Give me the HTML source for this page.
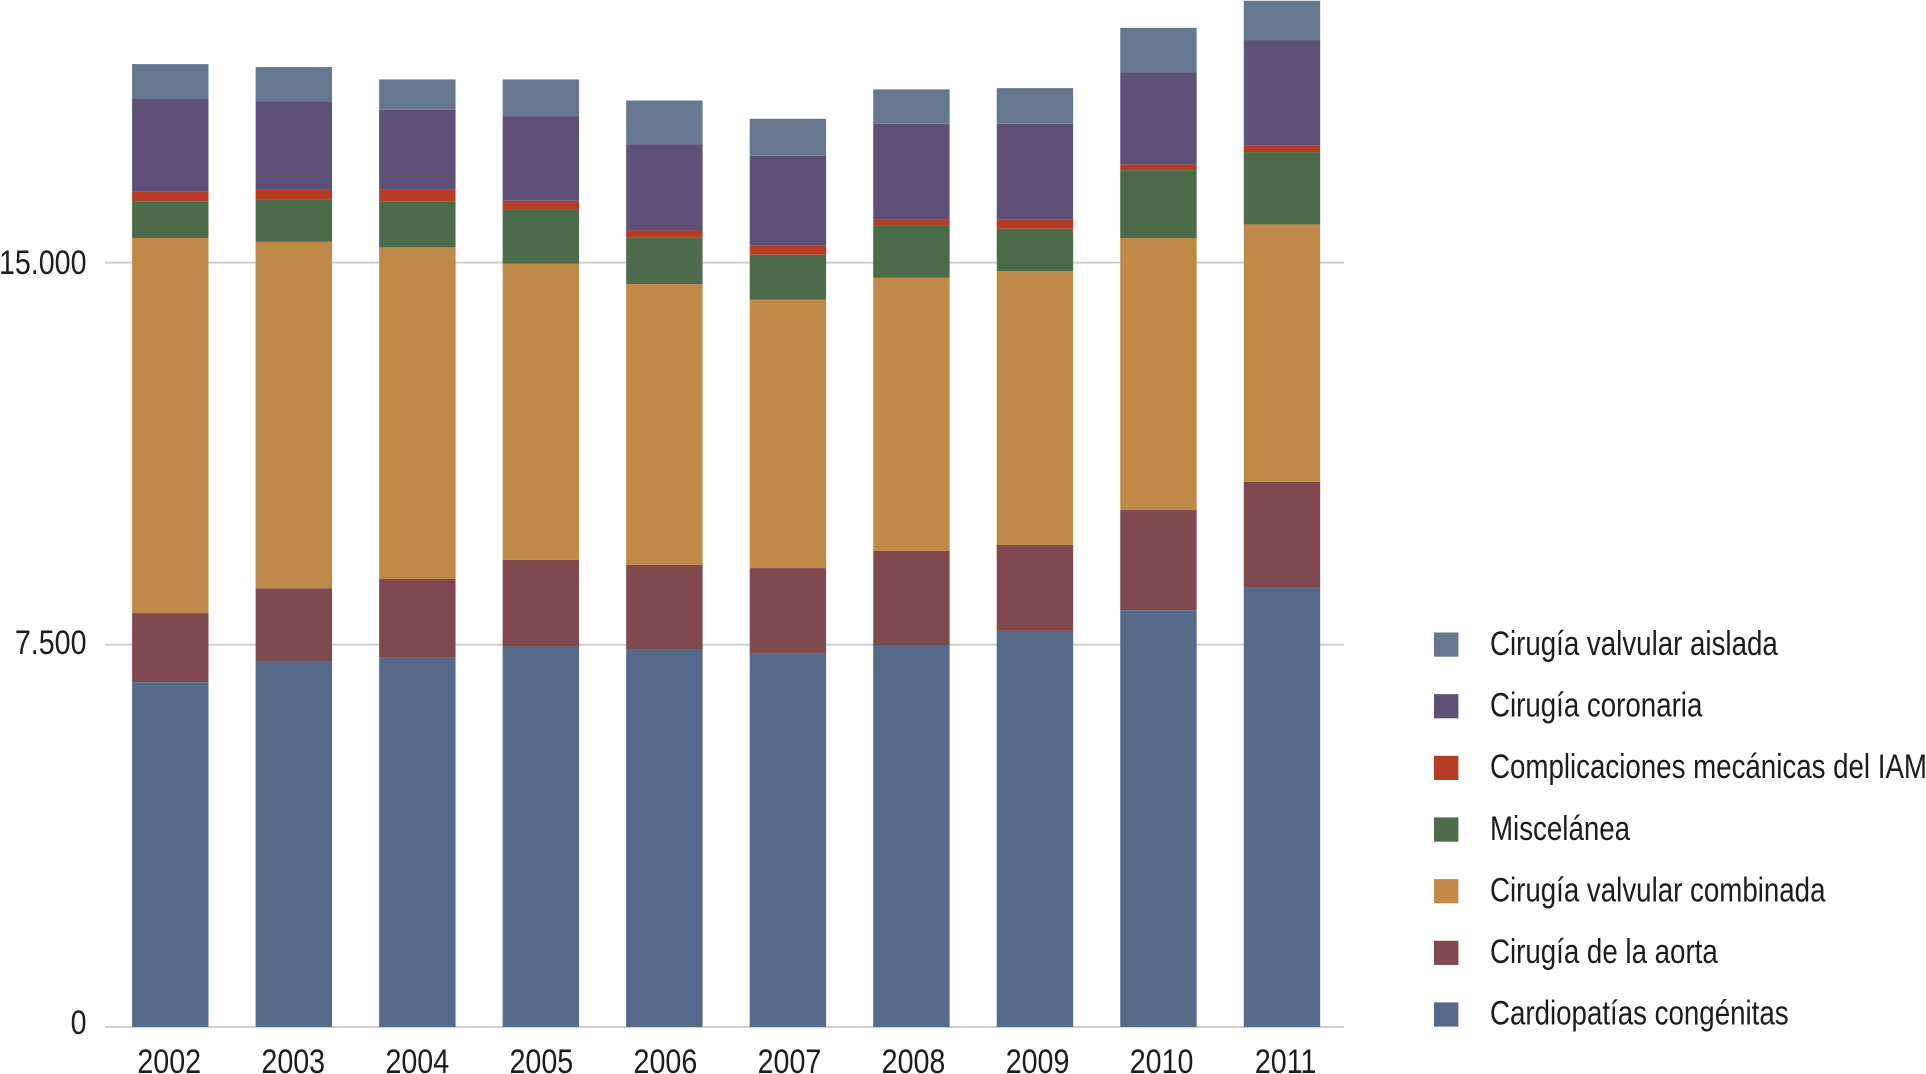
<!DOCTYPE html>
<html lang="es">
<head>
<meta charset="utf-8">
<title>Cirugías cardíacas por año</title>
<style>
  html, body { margin: 0; padding: 0; background: #fff; }
  body { width: 1926px; height: 1074px; overflow: hidden; }
  svg { display: block; }
  text { font-family: "Liberation Sans", sans-serif; font-size: 34.5px; fill: #1c1c1c; }
</style>
</head>
<body>
<svg id="chart" xmlns="http://www.w3.org/2000/svg" width="1926" height="1074" viewBox="0 0 1926 1074"></svg>
<script>
const years = ['2002','2003','2004','2005','2006','2007','2008','2009','2010','2011'];
const yTicks = [0, 7500, 15000];
const yTickLabels = ['0', '7.500', '15.000'];

const cardiopatias = [6764, 7174, 7245, 7468, 7417, 7325, 7478, 7773, 8178, 8616];
const aorta = [1358, 1436, 1546, 1701, 1652, 1680, 1864, 1687, 1966, 2084];
const valvularCombinada = [7360, 6798, 6508, 5808, 5509, 5266, 5360, 5374, 5337, 5050];
const miscelanea = [720, 838, 903, 1067, 922, 883, 1034, 830, 1334, 1419];
const complicaciones = [188, 190, 235, 169, 131, 177, 118, 184, 112, 124];
const coronaria = [1833, 1727, 1562, 1662, 1693, 1766, 1870, 1876, 1811, 2074];
const valvularAislada = [673, 673, 596, 720, 857, 726, 675, 700, 869, 771];

const seriesNames = ['Cardiopatías congénitas', 'Cirugía de la aorta', 'Cirugía valvular combinada', 'Miscelánea', 'Complicaciones mecánicas del IAM', 'Cirugía coronaria', 'Cirugía valvular aislada'];
const seriesValues = [cardiopatias, aorta, valvularCombinada, miscelanea, complicaciones, coronaria, valvularAislada];
const seriesColors = ['#546a88', '#80494f', '#bf8a47', '#4c6b49', '#b53d25', '#5d5177', '#65788f'];

const svg = document.getElementById('chart');
const NS = 'http://www.w3.org/2000/svg';
const tickTextScaleX = 0.83;
const legendTextScaleX = 0.803;

function yScale(v) { return 1027 - v * 382.2 / 7500; }
function barLeft(i) { return 132.1 + i * 123.52; }
const barWidth = 76.4;
function yearLabelCenter(i) { return 169.2 + i * 124.05; }
function yTickBaseline(v) { return yScale(v) + 7 + v / 15000 * 4.3; }
function slug(s) {
  return s.toLowerCase().normalize('NFD').replace(/[\u0300-\u036f]/g, '').replace(/\s+/g, '-');
}
function make(tag, attrs) {
  const el = document.createElementNS(NS, tag);
  for (const k in attrs) el.setAttribute(k, attrs[k]);
  return el;
}
function makeText(str, x, y, anchor, scaleX) {
  const t = make('text', { transform: 'translate(' + x + ' ' + y + ') scale(' + scaleX + ' 1)', 'text-anchor': anchor });
  t.textContent = str;
  return t;
}

yTicks.forEach(function (v, i) {
  const line = make('line', { x1: 105, x2: 1344, y1: yScale(v), y2: yScale(v), stroke: '#cfcfcf', 'stroke-width': 2 });
  
  
  svg.appendChild(line);

  const label = makeText(yTickLabels[i], 86.5, yTickBaseline(v), 'end', tickTextScaleX);
  
  
  svg.appendChild(label);
});

years.forEach(function (year, i) {
  let cumulative = 0;
  seriesValues.forEach(function (values, s) {
    const next = cumulative + values[i];
    const rect = make('rect', {
      x: barLeft(i),
      y: yScale(next),
      width: barWidth,
      height: yScale(cumulative) - yScale(next),
      fill: seriesColors[s]
    });
    
    
    svg.appendChild(rect);
    cumulative = next;
  });

  const label = makeText(year, yearLabelCenter(i), 1073, 'middle', tickTextScaleX);
  
  
  svg.appendChild(label);
});

seriesNames.slice().reverse().forEach(function (name, row) {
  const color = seriesColors[seriesNames.length - 1 - row];
  const swatch = make('rect', { x: 1434, y: 632.5 + row * 61.65, width: 24.4, height: 24.2, fill: color });
  
  
  svg.appendChild(swatch);

  const label = makeText(name, 1490, 655 + row * 61.6, 'start', legendTextScaleX);
  
  
  svg.appendChild(label);
});
</script>
</body>
</html>
